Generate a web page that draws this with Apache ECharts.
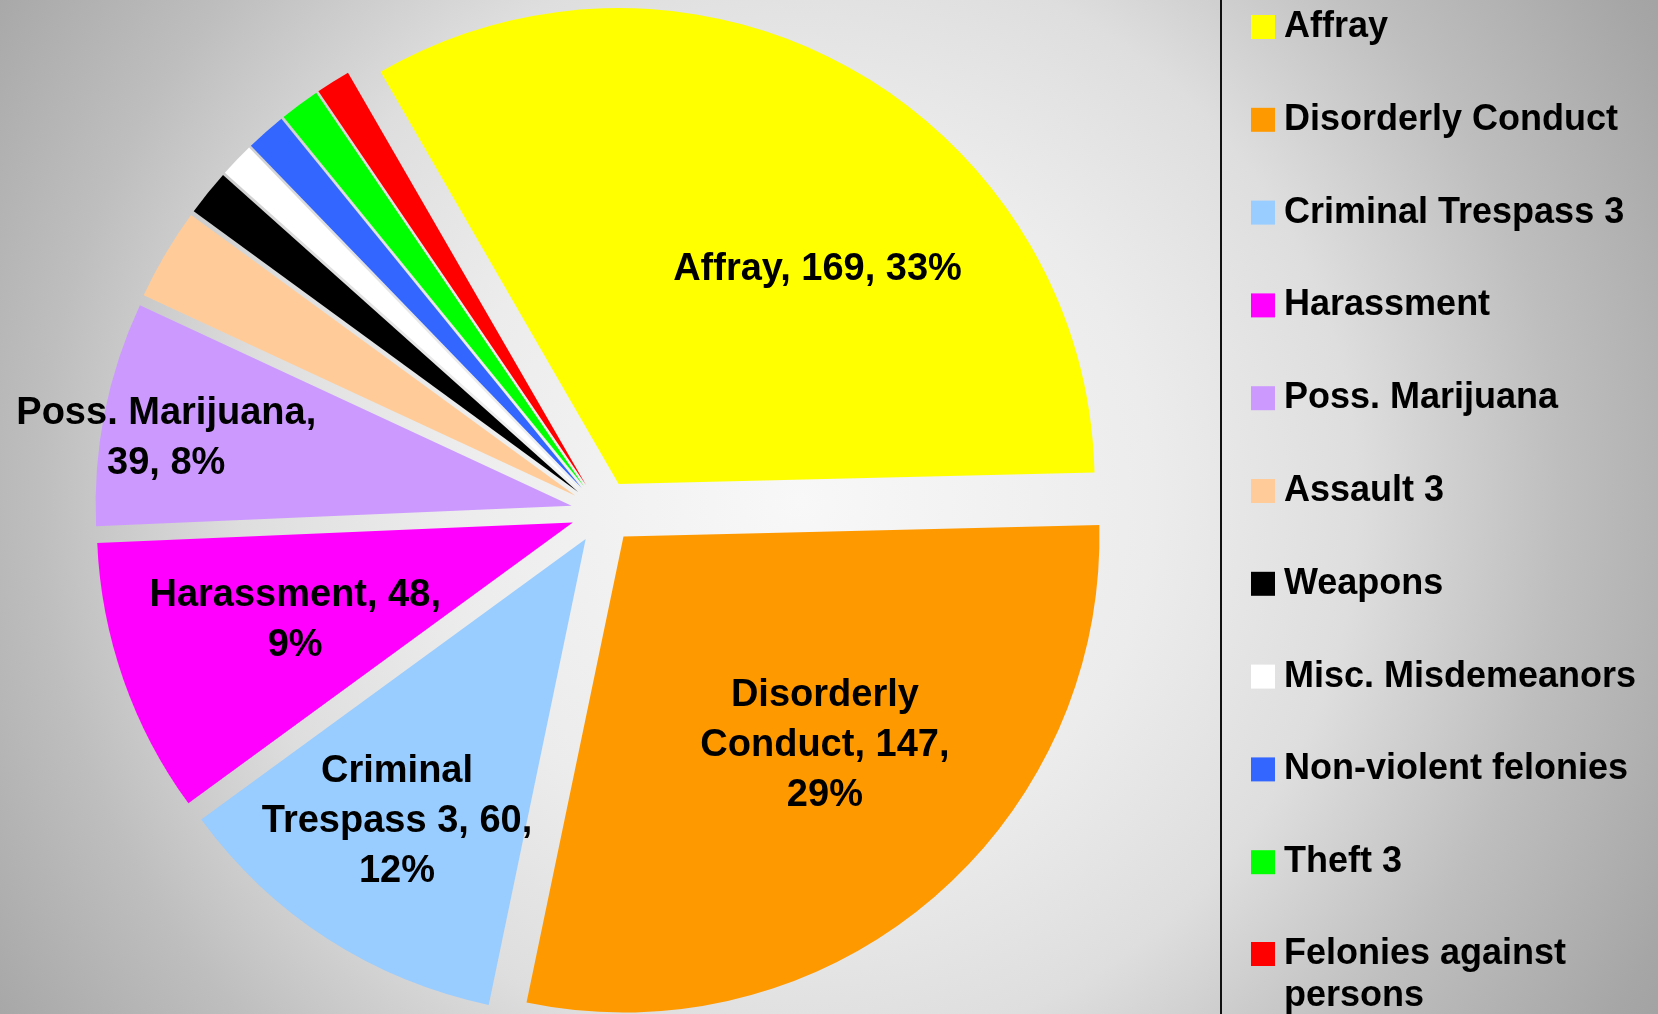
<!DOCTYPE html>
<html>
<head>
<meta charset="utf-8">
<script src="https://cdn.jsdelivr.net/npm/echarts@6/dist/echarts.min.js"></script>
<style>
  html, body { margin: 0; padding: 0; }
  #chart { width: 1658px; height: 1014px; }
</style>
</head>
<body>
<div id="chart"></div>
<script>
  // 分类和数量
  const categories = ['Affray', 'Disorderly Conduct', 'Criminal Trespass 3', 'Harassment',
    'Poss. Marijuana', 'Assault 3', 'Weapons', 'Misc. Misdemeanors',
    'Non-violent felonies', 'Theft 3', 'Felonies against persons'];
  const counts = [169, 147, 60, 48, 39, 16, 8, 6, 7, 7, 6];
  const colors = ['#ffff00', '#ff9900', '#99ccff', '#ff00ff', '#cc99ff', '#ffcc99',
    '#000000', '#ffffff', '#3366ff', '#00ff00', '#ff0000'];

  // 标签位置：半径比例, 角度偏移, 换行的词序号（只给前五块）
  const labelPlace = [
    [0.608, -13.7, []],
    [0.603, 4.2, [0, 2]],
    [0.708, -0.9, [0, 3]],
    [0.612, 0.1, [1]],
    [0.857, 1.8, [1]]
  ];

  const cx = 603, cy = 512, R = 476, OFF = 32, START = 120;
  const total = counts.reduce((a, b) => a + b, 0);

  // 相对于默认 inside 位置 (0.5R) 的偏移
  function labelShift(i) {
    let before = 0;
    for (let k = 0; k < i; k++) before += counts[k];
    const mid = START - (before + counts[i] / 2) / total * 360;
    const m = mid * Math.PI / 180;
    const a = (mid + labelPlace[i][1]) * Math.PI / 180;
    const d = labelPlace[i][0] * R;
    return {
      dx: d * Math.cos(a) - 0.5 * R * Math.cos(m),
      dy: -(d * Math.sin(a) - 0.5 * R * Math.sin(m))
    };
  }

  function labelText(p) {
    const words = `${p.name}, ${p.value}, ${p.percent}%`.split(' ');
    const br = labelPlace[p.dataIndex] ? labelPlace[p.dataIndex][2] : [];
    let s = '';
    words.forEach((w, k) => {
      s += w;
      if (k < words.length - 1) s += br.indexOf(k) >= 0 ? '\n' : ' ';
    });
    return s;
  }

  const font = "'Liberation Sans', Arial, sans-serif";
  let myChart = echarts.init(document.getElementById('chart'));
  myChart.setOption({
    animation: false,
    backgroundColor: {
      type: 'radial', x: 0.4825, y: 0.493, r: 1,
      colorStops: [
        { offset: 0, color: '#f8f8f8' },
        { offset: 0.35, color: '#ececec' },
        { offset: 0.55, color: '#dedede' },
        { offset: 0.75, color: '#bebebe' },
        { offset: 0.95, color: '#a6a6a6' },
        { offset: 1, color: '#a2a2a2' }
      ]
    },
    legend: [{
      orient: 'vertical',
      left: 1251, top: 6, padding: 0,
      icon: 'rect', itemWidth: 24, itemHeight: 24, itemGap: 50.8,
      selectedMode: false,
      data: categories.slice(0, 10),
      textStyle: { fontFamily: font, fontWeight: 'bold', fontSize: 36, lineHeight: 42, color: '#000', padding: [0, 0, 0, 4] }
    }, {
      // 最后一项两行，第一行对齐色块
      orient: 'vertical',
      left: 1251, top: 891, padding: 0,
      icon: 'rect', itemWidth: 24, itemHeight: 24,
      selectedMode: false,
      data: categories.slice(10),
      formatter: n => '\n' + n.replace(' persons', '\npersons'),
      textStyle: { fontFamily: font, fontWeight: 'bold', fontSize: 36, lineHeight: 42, color: '#000', padding: [0, 0, 0, 4] }
    }],
    graphic: [{
      type: 'line', silent: true,
      shape: { x1: 1221, y1: 0, x2: 1221, y2: 1014 },
      style: { stroke: '#111', lineWidth: 2 }
    }],
    series: [{
      type: 'pie',
      center: [cx, cy],
      radius: R,
      startAngle: START,
      clockwise: true,
      selectedMode: 'multiple',
      selectedOffset: OFF,
      percentPrecision: 0,
      avoidLabelOverlap: false,
      label: {
        show: true,
        position: 'inside',
        fontFamily: font, fontWeight: 'bold', fontSize: 38, lineHeight: 50,
        color: '#000', textBorderWidth: 0, align: 'center',
        formatter: labelText
      },
      labelLine: { show: false },
      labelLayout: p => {
        if (!labelPlace[p.dataIndex]) return {};
        return labelShift(p.dataIndex);
      },
      data: categories.map((n, i) => ({
        name: n,
        value: counts[i],
        selected: true,
        itemStyle: { color: colors[i] },
        label: { show: i < labelPlace.length }
      }))
    }]
  });
</script>
</body>
</html>
